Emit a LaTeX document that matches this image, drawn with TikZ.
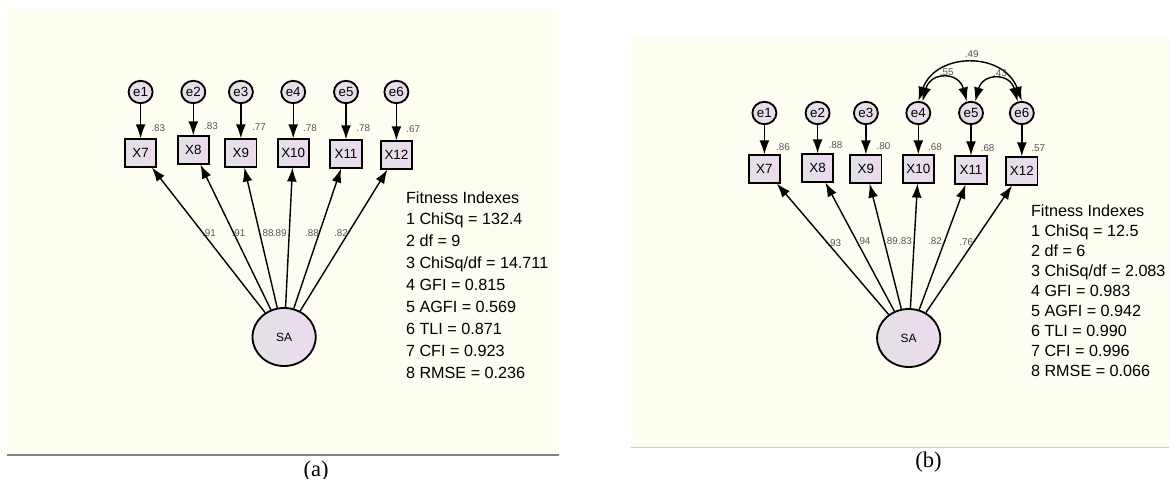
\documentclass[tikz,border=0pt]{standalone}
\usepackage{fontspec}
\setmainfont{Liberation Sans}
\newfontfamily\capfont{Liberation Serif}
\usetikzlibrary{arrows.meta,shapes.geometric}
\definecolor{panelbg}{HTML}{FDFDF1}
\definecolor{nodeleft}{HTML}{E2E2E6}
\definecolor{noderight}{HTML}{EDD9EE}
\definecolor{numgray}{HTML}{555555}

\begin{document}
\begin{tikzpicture}[x=0.025cm, y=-0.025cm,
  errnode/.style={ellipse, draw, line width=1.3pt, left color=nodeleft, right color=noderight,
    minimum width=0.6cm, minimum height=0.56cm, inner sep=0pt, font=\fontsize{9.5}{10}\selectfont},
  obsnode/.style={rectangle, draw, line width=1.3pt, left color=nodeleft, right color=noderight,
    minimum width=0.78cm, minimum height=0.68cm, inner sep=0pt, font=\fontsize{9.5}{10}\selectfont},
  latnode/.style={ellipse, draw, line width=1.3pt, left color=nodeleft, right color=noderight,
    minimum width=1.58cm, minimum height=1.45cm, inner sep=0pt, font=\fontsize{8.5}{10}\selectfont},
  arr/.style={-{Latex[length=10pt,width=7pt]}, line width=1pt},
  cov/.style={{Latex[length=10pt,width=7pt]}-{Latex[length=10pt,width=7pt]}, line width=1pt},
  num/.style={inner sep=0pt, text=numgray, font=\fontsize{7}{8}\selectfont},
  fitbox/.style={align=left, anchor=north west, inner sep=0pt},
  captext/.style={inner sep=0pt, font=\capfont\fontsize{16}{18}\selectfont}]
\useasboundingbox (0,0) rectangle (1169,479);

% panel (a)
\fill[panelbg] (7,8) rectangle (559,455);
\draw[gray, line width=1.2pt] (7,455) -- (559,455);
\node[latnode] (SA) at (284.1,337) {SA};
\foreach \n/\x/\y/\sx/\sy/\s in {1/140.6/153/158.3/128/.83, 2/193.3/150/210.9/126/.83,
  3/240.9/153/259/127/.77, 4/293.2/153/310/128/.78, 5/346/154/363.3/128/.78,
  6/396.4/155/413.2/129/.67}
{
\pgfmathtruncatemacro{\k}{\n+6}
\node[errnode] (e\n) at (\x,92) {e\n};
\node[obsnode] (X\k) at (\x,\y) {X\k};
\draw[arr] (e\n) -- (X\k);
\node[num] (r\n) at (\sx,\sy) {\s};
}
\foreach \k/\lx/\l in {7/209/.91, 8/238.6/.91, 9/266.7/.88, 10/279.7/.89, 11/311.9/.88, 12/341.1/.82}
{
\draw[arr] (SA) -- (X\k);
\node[num] (l\k) at (\lx,233) {\l};
}
\node[fitbox, font=\fontsize{11.5}{15.6}\selectfont] (fita) at (405.8,191)
  {Fitness Indexes\\1 ChiSq = 132.4\\2 df = 9\\3 ChiSq/df = 14.711\\4 GFI = 0.815\\
   5 AGFI = 0.569\\6 TLI = 0.871\\7 CFI = 0.923\\8 RMSE = 0.236};
\node[captext] (capa) at (316,471) {(a)};

% panel (b)
\fill[panelbg] (631,37) rectangle (1169,447);
\draw[gray!40] (631,447) -- (1169,447);
\node[latnode] (SSA) at (908.7,338) {SA};
\foreach \n/\x/\y/\sx/\sy/\s in {1/764.4/169/782.9/147/.86, 2/817.6/168/835.4/145/.88,
  3/865.9/169/883.5/146/.80, 4/918.3/169/935/147/.68, 5/971/170/987.6/148/.68,
  6/1021.8/171/1038.3/148/.57}
{
\pgfmathtruncatemacro{\k}{\n+6}
\node[errnode] (ee\n) at (\x,113) {e\n};
\node[obsnode] (XX\k) at (\x,\y) {X\k};
\draw[arr] (ee\n) -- (XX\k);
\node[num] (rr\n) at (\sx,\sy) {\s};
}
\foreach \k/\lx/\ly/\l in {7/834.3/243/.93, 8/863.6/241/.94, 9/891/241/.89, 10/905/241/.83,
  11/935/241/.82, 12/966.2/242/.76}
{
\draw[arr] (SSA) -- (XX\k);
\node[num] (ll\k) at (\lx,\ly) {\l};
}
\draw[cov] (ee4.north) to[out=70, in=110, looseness=1.3] (ee6.north);
\draw[cov] (ee4.70) to[out=75, in=105, looseness=1.8] (ee5.110);
\draw[cov] (ee5.70) to[out=75, in=105, looseness=1.8] (ee6.110);
\node[num] (c46) at (971.7,54) {.49};
\node[num] (c45) at (946.7,71.7) {.55};
\node[num] (c56) at (1000,73.3) {.43};
\node[fitbox, font=\fontsize{11.5}{14.3}\selectfont] (fitb) at (1030.8,204)
  {Fitness Indexes\\1 ChiSq = 12.5\\2 df = 6\\3 ChiSq/df = 2.083\\4 GFI = 0.983\\
   5 AGFI = 0.942\\6 TLI = 0.990\\7 CFI = 0.996\\8 RMSE = 0.066};
\node[captext] (capb) at (928.6,462) {(b)};
\end{tikzpicture}
\end{document}
